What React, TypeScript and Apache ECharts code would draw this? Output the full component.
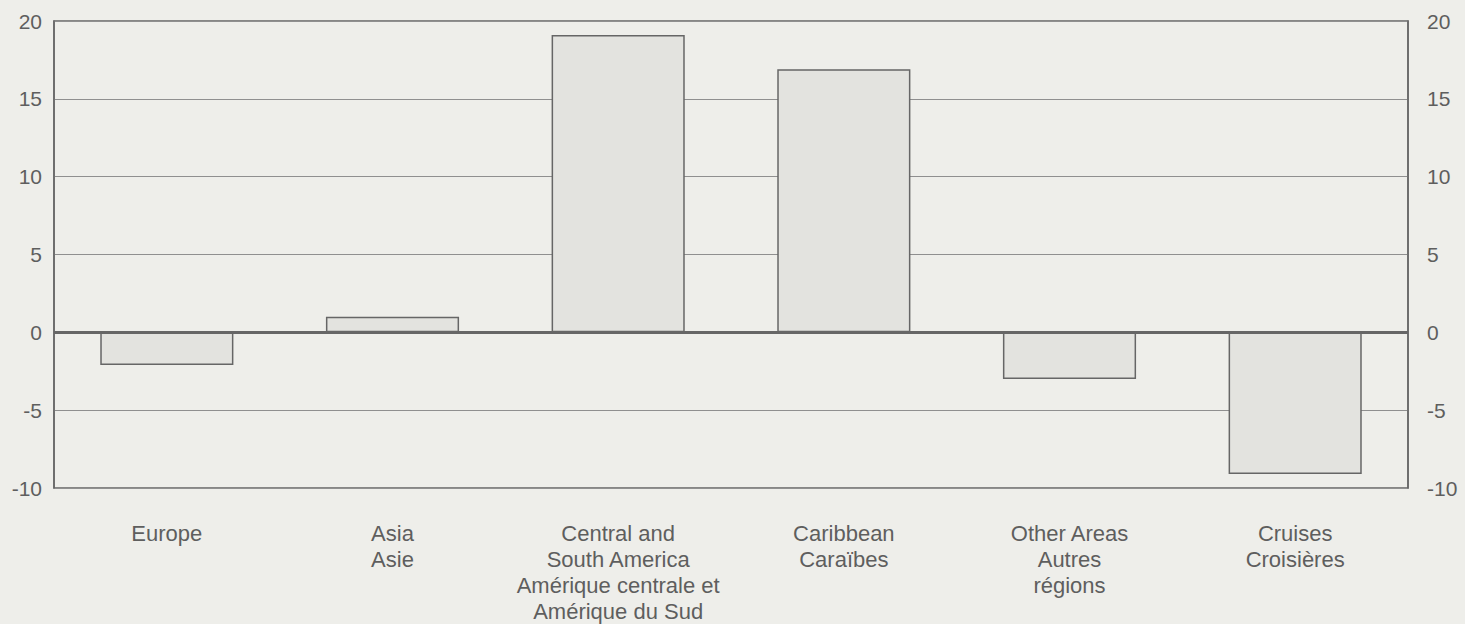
import React, { useEffect, useRef } from "react";
import * as echarts from "echarts";

const categories = [
  "Europe",
  "Asia\nAsie",
  "Central and\nSouth America\nAmérique centrale et\nAmérique du Sud",
  "Caribbean\nCaraïbes",
  "Other Areas\nAutres\nrégions",
  "Cruises\nCroisières",
];
const values = [-2.1, 1.0, 19.1, 16.9, -3.0, -9.1];
const yMin = -10;
const yMax = 20;
const yStep = 5;

export default function App() {
  const ref = useRef<HTMLDivElement>(null);
  useEffect(() => {
    if (!ref.current) return;
    const chart = echarts.init(ref.current, null, { renderer: "svg" });
    const font = "'Liberation Sans', Arial, sans-serif";
    const yAxisCommon = {
      type: "value",
      min: yMin,
      max: yMax,
      interval: yStep,
      axisLine: { show: true, lineStyle: { color: "#666", width: 1.5 } },
      axisTick: { show: false },
      splitLine: { show: true, lineStyle: { color: "#8f8f8f", width: 1, type: "solid" } },
      axisLabel: { color: "#5e5e5e", fontSize: 21, fontFamily: font },
    };
    chart.setOption({
      animation: false,
      backgroundColor: "#eeeeea",
      grid: {
        left: 54,
        right: 57,
        top: 21,
        bottom: 134,
        show: true,
        borderColor: "#666",
        borderWidth: 1.5,
        backgroundColor: "transparent",
      },
      xAxis: {
        type: "category",
        data: categories,
        axisLine: { show: false, onZero: false },
        axisTick: { show: false },
        axisLabel: {
          color: "#5e5e5e",
          fontSize: 22,
          fontFamily: font,
          lineHeight: 26,
          margin: 32,
          interval: 0,
        },
      },
      yAxis: [
        { ...yAxisCommon, position: "left", axisLabel: { ...yAxisCommon.axisLabel, margin: 12 } },
        { ...yAxisCommon, position: "right", axisLabel: { ...yAxisCommon.axisLabel, margin: 19 } },
      ],
      series: [
        {
          type: "bar",
          data: values,
          barWidth: "59%",
          itemStyle: { color: "#e3e3df", borderColor: "#666", borderWidth: 1.5 },
          markLine: {
            silent: true,
            symbol: "none",
            label: { show: false },
            lineStyle: { color: "#666", width: 3, type: "solid" },
            data: [{ yAxis: 0 }],
          },
        },
      ],
    });
    return () => chart.dispose();
  }, []);
  return (
    <div
      ref={ref}
      style={{ position: "fixed", left: 0, top: 0, width: 1465, height: 624, background: "#eeeeea" }}
    />
  );
}
